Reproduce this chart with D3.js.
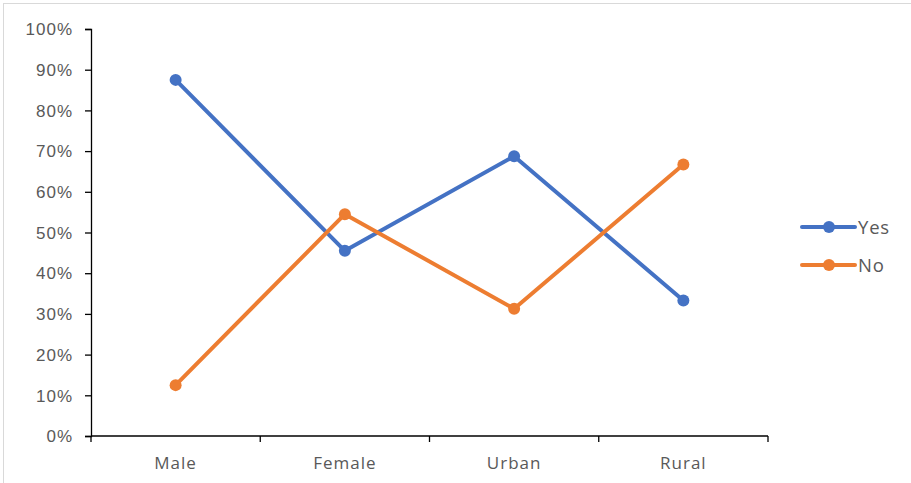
<!DOCTYPE html>
<html>
<head>
<meta charset="utf-8">
<script src="https://cdn.jsdelivr.net/npm/d3@7"></script>
<style>
  html, body { margin: 0; padding: 0; background: #fff; }
  svg { display: block; font-family: "Open Sans", "Liberation Sans", sans-serif; }
</style>
</head>
<body>
<svg id="chart" width="911" height="483"></svg>
<script>
// Share of answers per group
const categories = ["Male", "Female", "Urban", "Rural"];
const yesValues = [0.875, 0.455, 0.6875, 0.333];
const noValues  = [0.125, 0.545, 0.3125, 0.667];
const yTicks = [0, 0.1, 0.2, 0.3, 0.4, 0.5, 0.6, 0.7, 0.8, 0.9, 1.0];

const series = [
  { name: "Yes", values: yesValues, color: "#4472C4" },
  { name: "No",  values: noValues,  color: "#ED7D31" }
];

const svg = d3.select("#chart");

// chart area frame
svg.append("rect")
  .attr("x", 3.5).attr("y", 3.5)
  .attr("width", 915).attr("height", 495)
  .attr("fill", "none").attr("stroke", "#d9d9d9").attr("stroke-width", 1);

const plot = { left: 91, right: 768, top: 29, bottom: 436 };

const x = d3.scaleBand().domain(categories).range([plot.left, plot.right]);
const y = d3.scaleLinear().domain([0, 1]).range([plot.bottom, plot.top]);

// y axis
const yAxis = svg.append("g")
  .attr("transform", `translate(${plot.left},0)`)
  .call(d3.axisLeft(y).tickValues(yTicks).tickFormat(d3.format(".0%")).tickSizeOuter(0).tickSize(6).tickPadding(12));
yAxis.select(".domain").attr("stroke", "#000").attr("stroke-width", 1.3);
yAxis.selectAll(".tick line").attr("stroke", "#000").attr("stroke-width", 1.3);
yAxis.selectAll(".tick text")
  .attr("fill", "#595959").attr("font-size", "17px")
  .attr("letter-spacing", "1px").attr("dy", "0.34em");

// x axis with ticks on band boundaries
const xAxis = svg.append("g")
  .attr("transform", `translate(0,${plot.bottom})`);
xAxis.append("line")
  .attr("x1", plot.left).attr("x2", plot.right)
  .attr("stroke", "#000").attr("stroke-width", 1.3);
const bounds = categories.map(c => x(c)).concat([x(categories[categories.length - 1]) + x.bandwidth()]);
xAxis.selectAll(".xtick").data(bounds).enter().append("line")
  .attr("x1", d => d).attr("x2", d => d)
  .attr("y1", 0).attr("y2", 6)
  .attr("stroke", "#000").attr("stroke-width", 1.3);
xAxis.selectAll(".xlabel").data(categories).enter().append("text")
  .attr("x", d => x(d) + x.bandwidth() / 2)
  .attr("y", 33)
  .attr("text-anchor", "middle")
  .attr("fill", "#595959")
  .attr("font-size", "17px")
  .attr("letter-spacing", "1px")
  .text(d => d);

// series lines and markers
const line = d3.line()
  .x((d, i) => x(categories[i]) + x.bandwidth() / 2)
  .y(d => y(d));

series.forEach(s => {
  svg.append("path")
    .datum(s.values)
    .attr("d", line)
    .attr("fill", "none")
    .attr("stroke", s.color)
    .attr("stroke-width", 4)
    .attr("stroke-linejoin", "round");
  svg.selectAll(null).data(s.values).enter().append("circle")
    .attr("cx", (d, i) => x(categories[i]) + x.bandwidth() / 2)
    .attr("cy", d => y(d))
    .attr("r", 6)
    .attr("fill", s.color);
});

// legend
const legend = svg.append("g").attr("transform", "translate(802,227)");
series.forEach((s, i) => {
  const g = legend.append("g").attr("transform", `translate(0,${i * 38})`);
  g.append("line").attr("x1", 0).attr("x2", 53).attr("y1", 0).attr("y2", 0)
    .attr("stroke", s.color).attr("stroke-width", 4).attr("stroke-linecap", "round");
  g.append("circle").attr("cx", 27).attr("cy", 0).attr("r", 6).attr("fill", s.color);
  g.append("text").attr("x", 56).attr("y", 0).attr("dy", "0.36em")
    .attr("fill", "#595959").attr("font-size", "18.5px")
    .attr("letter-spacing", "0.8px").text(s.name);
});
</script>
</body>
</html>
